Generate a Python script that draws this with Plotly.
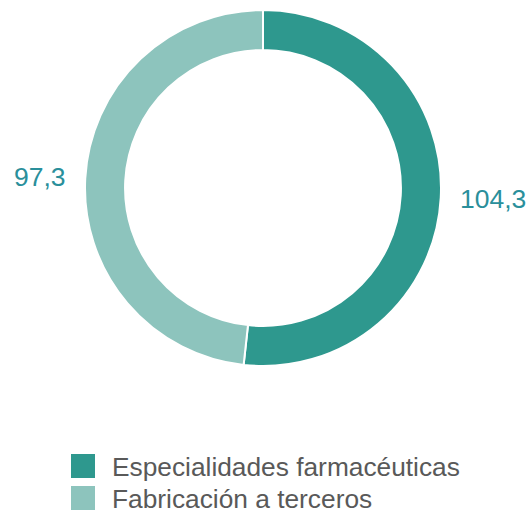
import math
import plotly.graph_objects as go

categories = ["Especialidades farmacéuticas", "Fabricación a terceros"]
values = [104.3, 97.3]
colors = ["#2E988E", "#8DC4BD"]

W, H = 529, 510
CX, CY, R = 263, 188, 178   # pie centre / radius in pixels
LABEL_R = 197               # radius where outside labels start
FONT = "Liberation Sans, Arial"

fig = go.Figure()
fig.add_trace(go.Pie(
    labels=categories,
    values=values,
    sort=False,
    direction="clockwise",
    rotation=0,
    hole=0.775,
    marker=dict(colors=colors, line=dict(color="white", width=2)),
    textinfo="none",
    automargin=False,
    domain=dict(x=[(CX - R - 85) / W, (CX + R + 85) / W],
                y=[(H - CY - R) / H, (H - CY + R) / H]),
    showlegend=False,
    hoverinfo="label+value",
))

# value labels outside each slice, at the slice's mid angle
total = sum(values)
cum = 0.0
for v in values:
    mid = (cum + v / 2) / total * 2 * math.pi  # clockwise from 12 o'clock
    cum += v
    px = CX + LABEL_R * math.sin(mid)
    py = CY - LABEL_R * math.cos(mid)
    fig.add_annotation(xref="paper", yref="paper",
                       x=px / W, y=1 - py / H,
                       xanchor="left" if math.sin(mid) >= 0 else "right",
                       yanchor="middle", showarrow=False,
                       borderpad=0, borderwidth=0,
                       text=f"{v:.1f}".replace(".", ","),
                       font=dict(family=FONT, size=26.5, color="#2A8F9B"))

# custom legend
leg_x0, leg_y0, sq, step = 71, 454, 24, 32
for i, (cat, col) in enumerate(zip(categories, colors)):
    y_top = leg_y0 + i * step
    fig.add_shape(type="rect", xref="paper", yref="paper",
                  x0=leg_x0 / W, x1=(leg_x0 + sq) / W,
                  y0=1 - (y_top + sq) / H, y1=1 - y_top / H,
                  fillcolor=col, line=dict(width=0))
    fig.add_annotation(xref="paper", yref="paper",
                       x=112 / W, y=1 - (y_top + sq / 2 + 1) / H,
                       xanchor="left", yanchor="middle", showarrow=False,
                       borderpad=0, borderwidth=0,
                       text=cat,
                       font=dict(family=FONT, size=26.3, color="#595959"))

fig.update_layout(
    width=W, height=H,
    margin=dict(l=0, r=0, t=0, b=0, autoexpand=False),
    paper_bgcolor="white",
    plot_bgcolor="white",
    separators=",.",
)

fig.write_html("out.html")
